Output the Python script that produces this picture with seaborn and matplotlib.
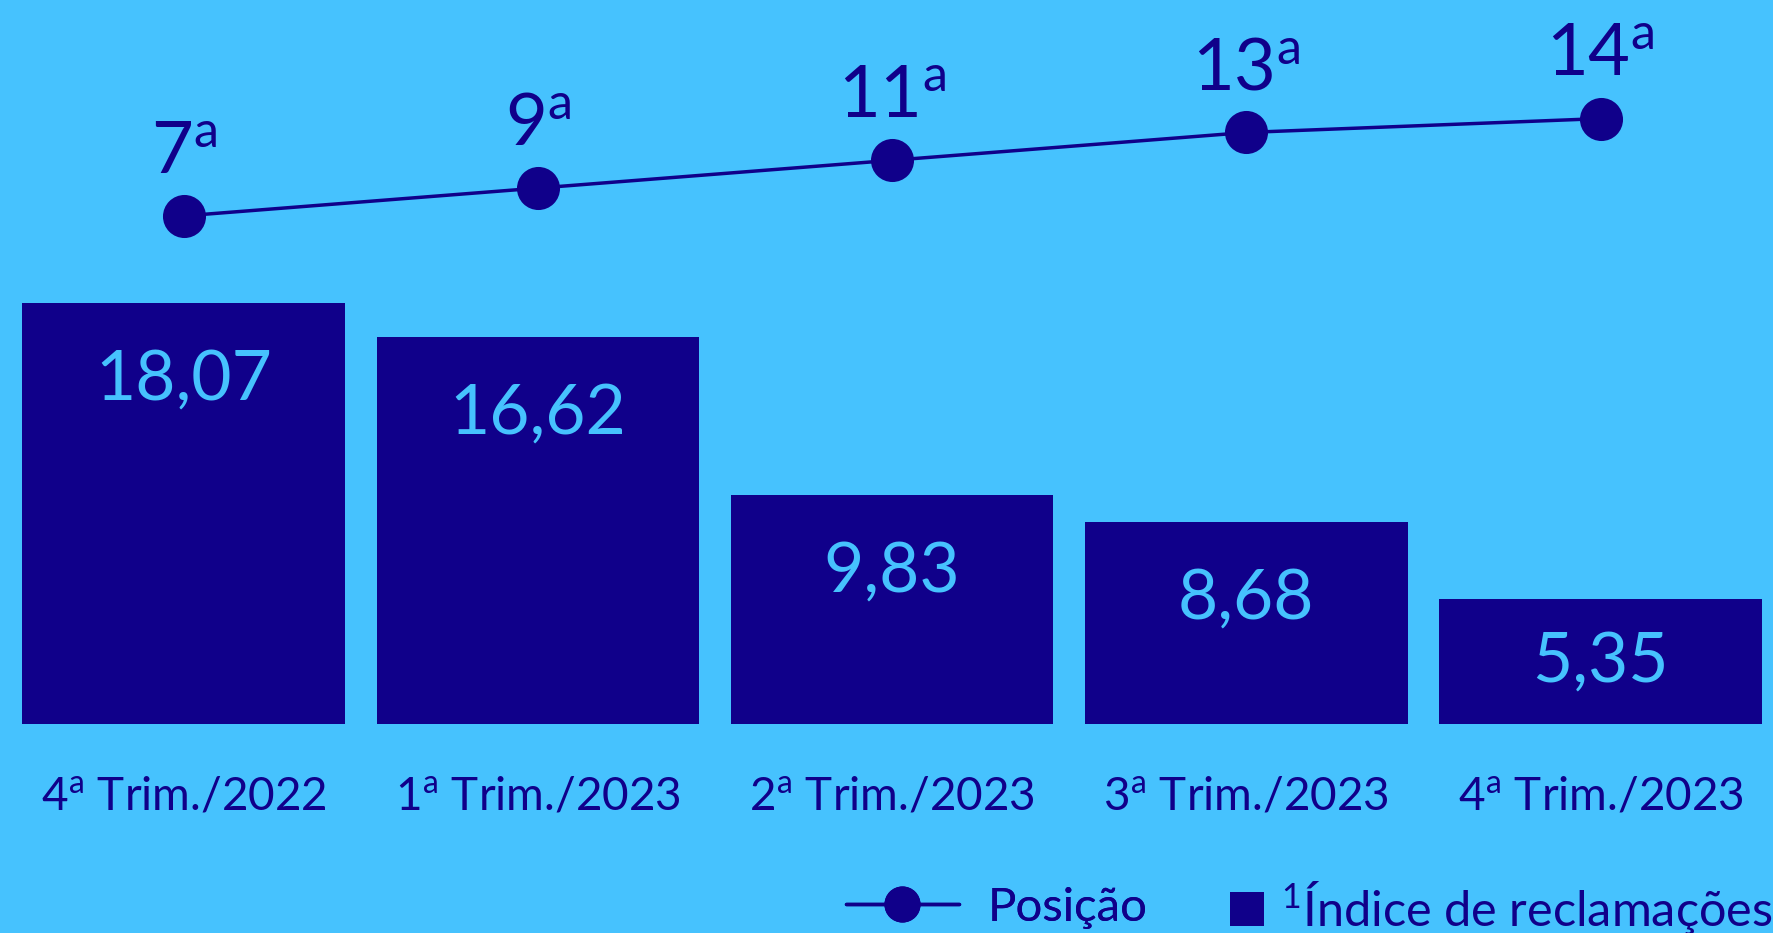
import numpy as np
import pandas as pd
import seaborn as sns
import matplotlib.pyplot as plt
from matplotlib.lines import Line2D

# chart data
trimestres = ["4$^{\\mathrm{a}}$ Trim./2022", "1$^{\\mathrm{a}}$ Trim./2023", "2$^{\\mathrm{a}}$ Trim./2023",
              "3$^{\\mathrm{a}}$ Trim./2023", "4$^{\\mathrm{a}}$ Trim./2023"]
indice = [18.07, 16.62, 9.83, 8.68, 5.35]
posicao = [7, 9, 11, 13, 14]

BG = "#46C2FE"
NAVY = "#10008A"

sns.set_style("white")
plt.rcParams["font.family"] = ["Lato", "DejaVu Sans"]
plt.rcParams["mathtext.fontset"] = "custom"
plt.rcParams["mathtext.rm"] = "Lato"
plt.rcParams["mathtext.it"] = "Lato:italic"
plt.rcParams["mathtext.bf"] = "Lato:bold"

df = pd.DataFrame({"trim": trimestres, "indice": indice, "pos": posicao})

fig = plt.figure(figsize=(17.73, 9.33), dpi=100, facecolor=BG)
ax = fig.add_axes([0, 209 / 933, 1, 724 / 933])
ax.set_facecolor(BG)

sns.barplot(data=df, x="trim", y="indice", color=NAVY, width=0.911, saturation=1,
            linewidth=0, ax=ax)
ax.set_xlim(-0.519, 4.487)
ax.set_ylim(0, 31.07)

# value labels inside bars
for i, v in enumerate(indice):
    d = min(3.3, v / 2)
    ax.text(i, v - d, f"{v:.2f}".replace(".", ","), ha="center", va="center",
            color=BG, fontsize=50)

ax.set_xlabel("")
ax.set_ylabel("")
ax.set_yticks([])
ax.tick_params(axis="x", length=0, pad=37, labelsize=33, labelcolor=NAVY)
for s in ax.spines.values():
    s.set_visible(False)

# position line on twin axis
ax2 = ax.twinx()
sns.lineplot(x=np.arange(len(posicao)), y=posicao, color=NAVY, linewidth=2.5,
             marker="o", markersize=31, markeredgewidth=0, ax=ax2)
ax2.set_ylim(-29.55, 22.53)
ax2.set_yticks([])
for s in ax2.spines.values():
    s.set_visible(False)
for i, p in enumerate(posicao):
    ax2.annotate(f"{p}$^{{\\mathrm{{a}}}}$", (i, p), xytext=(0, 46), textcoords="offset points",
                 ha="center", va="center", color=NAVY, fontsize=52)

h_pos = Line2D([0], [0], color=NAVY, linewidth=2.5, marker="o", markersize=26, markeredgewidth=0)
h_ind = Line2D([0], [0], color=NAVY, linestyle="none", marker="s", markersize=24, markeredgewidth=0)
leg1 = fig.legend([h_pos], ["Posição"], loc="center right", bbox_to_anchor=(0.647, 25 / 933),
                  frameon=False, fontsize=34, labelcolor=NAVY, handlelength=2.4,
                  handletextpad=0.6, borderpad=0, borderaxespad=0)
fig.legend([h_ind], ["$^{1}$Índice de reclamações"], loc="center right",
           bbox_to_anchor=(1.0, 25 / 933), frameon=False, fontsize=35, labelcolor=NAVY,
           handlelength=0.8, handletextpad=0.3, borderpad=0, borderaxespad=0)
fig.add_artist(leg1)

fig.savefig("out.png", dpi=100, facecolor=BG)
